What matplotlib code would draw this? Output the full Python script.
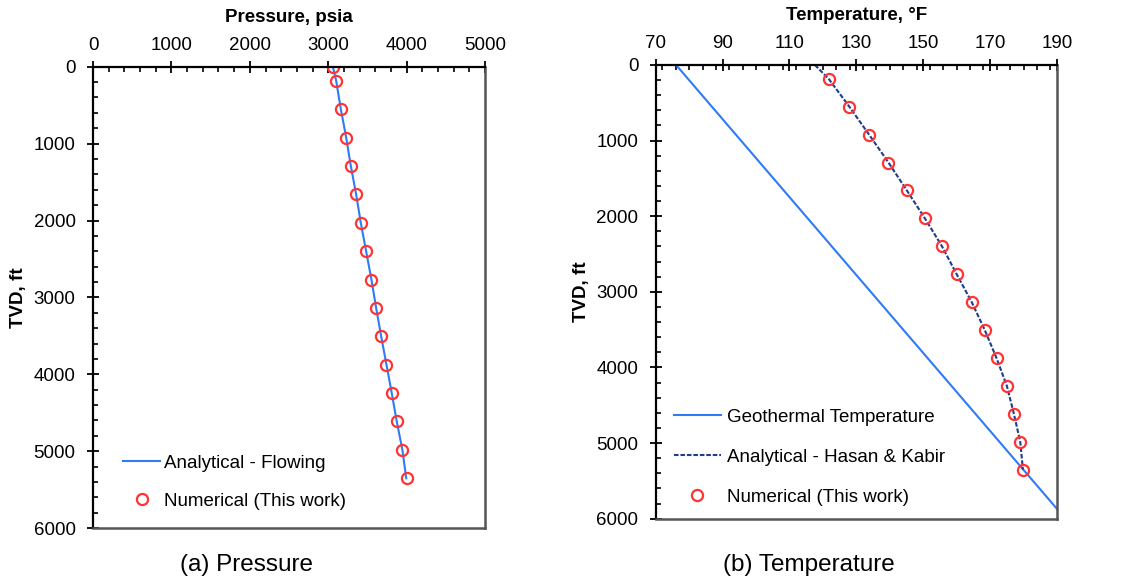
import matplotlib
matplotlib.use("Agg")
import matplotlib.pyplot as plt
from matplotlib.ticker import MultipleLocator

plt.rcParams['font.family'] = ['Liberation Sans', 'DejaVu Sans']

# ---------------- data ----------------
depth_p = [0, 182, 552, 921, 1290, 1660, 2029, 2398, 2768, 3137, 3506, 3876,
           4245, 4614, 4984, 5353]
pressure_numerical = [3059, 3101, 3161, 3229, 3288, 3356, 3415, 3483, 3551,
                      3611, 3675, 3743, 3810, 3874, 3946, 4006]
pressure_analytical = [3059, 3101, 3161, 3229, 3288, 3356, 3415, 3483, 3551,
                       3611, 3675, 3743, 3810, 3874, 3946, 3995]

depth_t_num = [182, 552, 921, 1290, 1660, 2029, 2398, 2768, 3137, 3506, 3876,
               4245, 4614, 4984, 5353]
temp_numerical = [121.7, 127.9, 133.8, 139.6, 145.1, 150.5, 155.6, 160.0,
                  164.5, 168.4, 171.9, 175.0, 177.1, 179.0, 179.8]
depth_t_ana = [0, 182, 552, 921, 1290, 1660, 2029, 2398, 2768, 3137, 3506,
               3876, 4245, 4614, 4984, 5353]
temp_analytical = [117.6, 121.7, 127.9, 133.8, 139.6, 145.1, 150.5, 155.6,
                   160.0, 164.5, 168.4, 171.9, 175.0, 177.1, 179.0, 179.8]
depth_geo = [0, 6000]
temp_geo = [76.1, 192.5]

pressure_ticks = [0, 1000, 2000, 3000, 4000, 5000]
temp_ticks = [70, 90, 110, 130, 150, 170, 190]
depth_ticks = [0, 1000, 2000, 3000, 4000, 5000, 6000]

# ---------------- style ----------------
BLUE = '#2F7BF5'
NAVY = '#1F3D8A'
RED = '#FF3333'
TICK_FS = 13.5
LABEL_FS = 13.5
LEG_FS = 13.5
CAP_FS = 17.5

fig = plt.figure(figsize=(11.22, 5.88), dpi=100)
axL = fig.add_axes([0.0829, 0.102, 0.3494, 0.7845])
axR = fig.add_axes([0.5844, 0.1179, 0.3577, 0.7716])


def style_axes(ax, xticks, xminor):
    ax.set_ylim(6000, 0)
    ax.set_xlim(xticks[0], xticks[-1])
    ax.set_xticks(xticks)
    ax.set_yticks(depth_ticks)
    ax.xaxis.set_minor_locator(MultipleLocator(xminor))
    ax.yaxis.set_minor_locator(MultipleLocator(200))
    ax.xaxis.tick_top()
    ax.xaxis.set_label_position('top')
    ax.tick_params(which='major', direction='inout', length=8, width=1.3,
                   labelsize=TICK_FS, top=True, bottom=False,
                   left=True, right=False, color='black')
    ax.tick_params(axis='x', which='major', pad=5)
    ax.tick_params(axis='y', which='major', pad=8.5)
    ax.tick_params(which='minor', direction='in', length=3.5, width=1.2,
                   top=True, bottom=False, left=True, right=False)
    for s in ('top', 'left'):
        ax.spines[s].set_color('black')
        ax.spines[s].set_linewidth(1.6)
    for s in ('right', 'bottom'):
        ax.spines[s].set_color('#555555')
        ax.spines[s].set_linewidth(1.8)
    ax.set_ylabel('TVD, ft', fontsize=LABEL_FS, fontweight='bold',
                  labelpad=4.5)


# ---------------- pressure ----------------
style_axes(axL, pressure_ticks, 200)
axL.plot(pressure_analytical, depth_p, color=BLUE, lw=1.5,
         label='Analytical - Flowing')
axL.plot(pressure_numerical, depth_p, ls='none', marker='o', ms=8,
         mfc='none', mec=RED, mew=1.6, label='Numerical (This work)')
axL.set_xlabel('Pressure, psia', fontsize=LABEL_FS, fontweight='bold',
               labelpad=11)
axL.legend(loc='center left', bbox_to_anchor=(0.057, 0.099), frameon=False,
           fontsize=LEG_FS, handlelength=2.0, handletextpad=0.2,
           labelspacing=1.1, borderaxespad=0)

# ---------------- temperature ----------------
style_axes(axR, temp_ticks, 4)
axR.plot(temp_geo, depth_geo, color=BLUE, lw=1.5,
         label='Geothermal Temperature')
axR.plot(temp_analytical, depth_t_ana, color=NAVY, lw=1.5, ls=(0, (2.2, 0.9)),
         label='Analytical - Hasan & Kabir')
axR.plot(temp_numerical, depth_t_num, ls='none', marker='o', ms=8,
         mfc='none', mec=RED, mew=1.6, label='Numerical (This work)')
axR.set_xlabel('Temperature, °F', fontsize=LABEL_FS, fontweight='bold',
               labelpad=11)
axR.legend(loc='center left', bbox_to_anchor=(0.027, 0.135), frameon=False,
           fontsize=LEG_FS, handlelength=2.5, handletextpad=0.3,
           labelspacing=1.22, borderaxespad=0)

fig.text(247 / 1122, 1 - 565 / 588, '(a) Pressure', fontsize=CAP_FS,
         ha='center', va='center')
fig.text(809 / 1122, 1 - 565 / 588, '(b) Temperature', fontsize=CAP_FS,
         ha='center', va='center')

fig.savefig('out.png', dpi=100)
